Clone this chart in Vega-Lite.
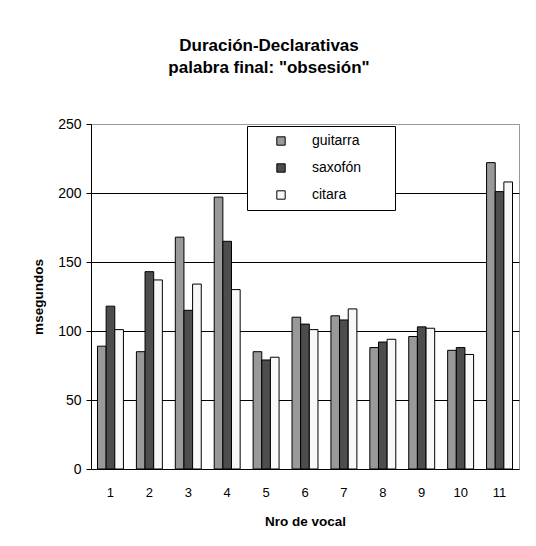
{
  "$schema": "https://vega.github.io/schema/vega-lite/v6.json",
  "width": 428,
  "height": 345,
  "autosize": {"type": "none"},
  "padding": {"left": 91, "top": 124, "right": 17, "bottom": 77},
  "background": "white",
  "title": {
    "text": ["Duración-Declarativas", "palabra final: \"obsesión\""],
    "font": "Liberation Sans",
    "fontSize": 17,
    "fontWeight": "bold",
    "color": "black",
    "anchor": "middle",
    "dx": -36,
    "offset": 40,
    "lineHeight": 22
  },
  "data": {
    "values": [
      {"vocal": 1, "serie": "guitarra", "ms": 89},
      {"vocal": 1, "serie": "saxofón", "ms": 118},
      {"vocal": 1, "serie": "citara", "ms": 101},
      {"vocal": 2, "serie": "guitarra", "ms": 85},
      {"vocal": 2, "serie": "saxofón", "ms": 143},
      {"vocal": 2, "serie": "citara", "ms": 137},
      {"vocal": 3, "serie": "guitarra", "ms": 168},
      {"vocal": 3, "serie": "saxofón", "ms": 115},
      {"vocal": 3, "serie": "citara", "ms": 134},
      {"vocal": 4, "serie": "guitarra", "ms": 197},
      {"vocal": 4, "serie": "saxofón", "ms": 165},
      {"vocal": 4, "serie": "citara", "ms": 130},
      {"vocal": 5, "serie": "guitarra", "ms": 85},
      {"vocal": 5, "serie": "saxofón", "ms": 79},
      {"vocal": 5, "serie": "citara", "ms": 81},
      {"vocal": 6, "serie": "guitarra", "ms": 110},
      {"vocal": 6, "serie": "saxofón", "ms": 105},
      {"vocal": 6, "serie": "citara", "ms": 101},
      {"vocal": 7, "serie": "guitarra", "ms": 111},
      {"vocal": 7, "serie": "saxofón", "ms": 108},
      {"vocal": 7, "serie": "citara", "ms": 116},
      {"vocal": 8, "serie": "guitarra", "ms": 88},
      {"vocal": 8, "serie": "saxofón", "ms": 92},
      {"vocal": 8, "serie": "citara", "ms": 94},
      {"vocal": 9, "serie": "guitarra", "ms": 96},
      {"vocal": 9, "serie": "saxofón", "ms": 103},
      {"vocal": 9, "serie": "citara", "ms": 102},
      {"vocal": 10, "serie": "guitarra", "ms": 86},
      {"vocal": 10, "serie": "saxofón", "ms": 88},
      {"vocal": 10, "serie": "citara", "ms": 83},
      {"vocal": 11, "serie": "guitarra", "ms": 222},
      {"vocal": 11, "serie": "saxofón", "ms": 201},
      {"vocal": 11, "serie": "citara", "ms": 208}
    ]
  },
  "mark": {"type": "bar", "stroke": "black", "strokeWidth": 1},
  "encoding": {
    "x": {
      "field": "vocal",
      "type": "ordinal",
      "scale": {"paddingInner": 0.333, "paddingOuter": 0.1667},
      "axis": {
        "title": "Nro de vocal",
        "labelAngle": 0,
        "ticks": false,
        "labelPadding": 17,
        "titlePadding": 15,
        "grid": false
      }
    },
    "xOffset": {"field": "serie", "sort": ["guitarra", "saxofón", "citara"]},
    "y": {
      "field": "ms",
      "type": "quantitative",
      "scale": {"domain": [0, 250], "nice": false},
      "axis": {
        "title": "msegundos",
        "values": [0, 50, 100, 150, 200, 250],
        "grid": true,
        "gridColor": {"condition": {"test": "datum.value == 250 || datum.value == 0", "value": "#999999"}, "value": "black"},
        "gridOpacity": 1,
        "tickSize": 5,
        "labelPadding": 5,
        "labelFontSize": 14,
        "titlePadding": 12
      }
    },
    "fill": {
      "field": "serie",
      "type": "nominal",
      "scale": {"domain": ["guitarra", "saxofón", "citara"], "range": ["#999999", "#4d4d4d", "#f8f8f8"]},
      "legend": {
        "title": ".",
        "titleOrient": "right",
        "titleColor": "white",
        "titleFontSize": 8,
        "titlePadding": 23,
        "orient": "none",
        "legendX": 156,
        "legendY": 2,
        "strokeColor": "black",
        "fillColor": "white",
        "padding": 8,
        "symbolType": "square",
        "symbolSize": 70,
        "symbolStrokeColor": "black",
        "symbolStrokeWidth": 1,
        "symbolOpacity": 1,
        "symbolOffset": 19,
        "labelOffset": 24,
        "rowPadding": 13,
        "labelFont": "Liberation Sans",
        "labelFontSize": 14,
        "labelColor": "black"
      }
    }
  },
  "config": {
    "view": {"stroke": "#999999", "strokeWidth": 1},
    "axis": {
      "labelFont": "Liberation Sans",
      "labelFontSize": 13,
      "labelColor": "black",
      "titleFont": "Liberation Sans",
      "titleFontSize": 13.5,
      "titleFontWeight": "bold",
      "titleColor": "black",
      "domainColor": "black",
      "tickColor": "black",
      "domainWidth": 1
    }
  }
}
